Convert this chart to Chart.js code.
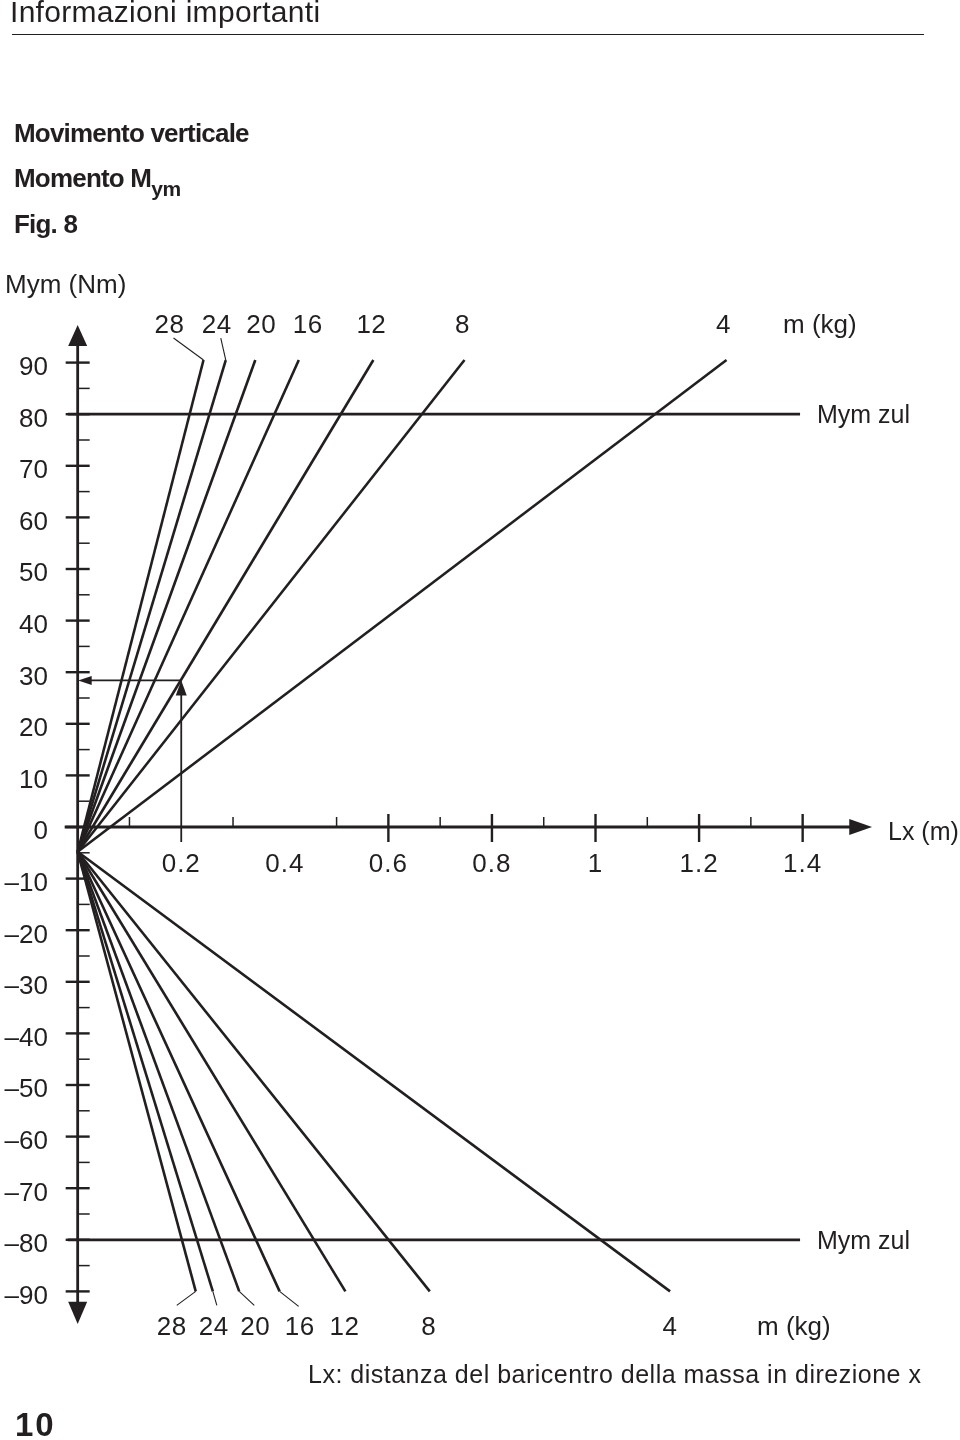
<!DOCTYPE html>
<html lang="it">
<head>
<meta charset="utf-8">
<title>Momento Mym</title>
<script src="https://cdn.jsdelivr.net/npm/chart.js@4.4.1/dist/chart.umd.min.js"></script>
<style>
    html, body { margin: 0; padding: 0; background: #fff; }
    #page { position: relative; width: 960px; height: 1440px; overflow: hidden; color: #231f20; }
    #page canvas { position: absolute; left: 0; top: 0; }
    .txt { position: absolute; white-space: nowrap; line-height: 1; font-family: "Liberation Sans", Arial, sans-serif; }
    .head { left: 10px; top: -3px; font-size: 30px; letter-spacing: 0.3px; }
    .rule { position: absolute; left: 12px; top: 34px; width: 912px; height: 0; border-top: 1.4px solid #231f20; }
    .bold { left: 14px; font-size: 26px; font-weight: bold; letter-spacing: -0.8px; }
    .bold sub { font-size: 21px; vertical-align: -9px; line-height: 0; letter-spacing: -0.5px; }
    .pagenum { left: 15px; top: 1408px; font-size: 33px; font-weight: bold; letter-spacing: 2px; }
</style>
</head>
<body>
<div id="page">
    <canvas id="moment-chart" width="960" height="1440"></canvas>
    <div class="txt head">Informazioni importanti</div>
    <div class="rule"></div>
    <div class="txt bold" style="top:120px">Movimento verticale</div>
    <div class="txt bold" style="top:165px">Momento M<sub>ym</sub></div>
    <div class="txt bold" style="top:211px">Fig. 8</div>
    <div class="txt pagenum">10</div>
</div>
<script>
// Values
const masses = [28, 24, 20, 16, 12, 8, 4];                              // m (kg)
const upperEndLx = [0.243, 0.286, 0.343, 0.427, 0.571, 0.747, 1.253];   // Lx where each line reaches the top
const lowerEndLx = [0.228, 0.261, 0.312, 0.390, 0.517, 0.680, 1.144];   // Lx where each line reaches the bottom
const upperEndM = 90.5;
const lowerEndM = -90;
const pivotLx = 0;
const pivotM = -4.8;            // all lines start from this point
const mymZul = [80, -80];       // permitted moment
const mymZulLx = [-0.019, 1.395];
const yTicks = [90, 80, 70, 60, 50, 40, 30, 20, 10, 0, -10, -20, -30, -40, -50, -60, -70, -80, -90];
const xTickLabels = ['0.2', '0.4', '0.6', '0.8', '1', '1.2', '1.4'];
const xMajorTicks = [0.6, 0.8, 1.0, 1.2, 1.4];
const xMinorTicks = [0.1, 0.3, 0.5, 0.7, 0.9, 1.1, 1.3];
const exampleLx = 0.2;
const exampleM = 28.4;

const INK = '#231f20';
const FONT = '"Liberation Sans", Arial, sans-serif';

function lineDataset(points, width) {
    return {
        data: points,
        showLine: true,
        borderColor: INK,
        borderWidth: width,
        pointRadius: 0,
        clip: false
    };
}

const datasets = [];
masses.forEach((m, i) => {
    datasets.push(lineDataset([{ x: pivotLx, y: pivotM }, { x: upperEndLx[i], y: upperEndM }], 2.6));
    datasets.push(lineDataset([{ x: pivotLx, y: pivotM }, { x: lowerEndLx[i], y: lowerEndM }], 2.6));
});
mymZul.forEach(v => {
    datasets.push(lineDataset([{ x: mymZulLx[0], y: v }, { x: mymZulLx[1], y: v }], 2.8));
});

// label placement, px offsets from the end of each line
const topLabelDx = [-34, -9, 6, 9, -2, -2, -3];
const bottomLabelDx = [-24, 1, 16, 20, -1, -1, 0];
const topLeaders = { 28: [-30, -22], 24: [-5, -22] };
const bottomLeaders = { 28: [-19, 14], 24: [4, 14], 20: [15, 14], 16: [19, 15] };

function line(ctx, x1, y1, x2, y2, w) {
    ctx.lineWidth = w;
    ctx.beginPath();
    ctx.moveTo(x1, y1);
    ctx.lineTo(x2, y2);
    ctx.stroke();
}

function tri(ctx, a, b, c) {
    ctx.beginPath();
    ctx.moveTo(a[0], a[1]);
    ctx.lineTo(b[0], b[1]);
    ctx.lineTo(c[0], c[1]);
    ctx.closePath();
    ctx.fill();
}

function text(ctx, str, x, y, size, align, spacing) {
    ctx.font = size + 'px ' + FONT;
    ctx.textAlign = align || 'left';
    ctx.textBaseline = 'alphabetic';
    ctx.letterSpacing = spacing || '0px';
    ctx.fillText(str, x, y);
}

const axesPlugin = {
    id: 'axesPlugin',
    afterDatasetsDraw(chart) {
        const ctx = chart.ctx;
        const sx = chart.scales.x;
        const sy = chart.scales.y;
        const px = v => sx.getPixelForValue(v);
        const py = v => sy.getPixelForValue(v);
        const x0 = px(0);
        const y0 = py(0);

        ctx.save();
        ctx.strokeStyle = INK;
        ctx.fillStyle = INK;
        ctx.lineCap = 'butt';

        // y axis with arrows
        line(ctx, x0, py(93.5), x0, py(-92.5), 2.8);
        tri(ctx, [x0, py(97.3)], [x0 - 9.5, py(93.2)], [x0 + 9.5, py(93.2)]);
        tri(ctx, [x0, py(-96.3)], [x0 - 9.5, py(-92)], [x0 + 9.5, py(-92)]);
        yTicks.forEach(v => {
            line(ctx, x0 - 12, py(v), x0 + 12, py(v), 2.4);
            const lbl = v < 0 ? '\u2013' + Math.abs(v) : String(v);
            text(ctx, lbl, 48, py(v) + 12.3, 26, 'right');
        });
        for (let v = 85; v > -90; v -= 10) {
            line(ctx, x0, py(v), x0 + 12, py(v), 1.5);
        }

        // x axis with arrow
        const xEnd = px(1.49);
        line(ctx, x0 - 13, y0, xEnd + 1, y0, 2.8);
        tri(ctx, [px(1.534), y0], [xEnd, y0 - 8], [xEnd, y0 + 8]);
        xMinorTicks.forEach(v => line(ctx, px(v), y0, px(v), y0 - 10, 1.5));
        xMajorTicks.forEach(v => line(ctx, px(v), y0 - 13, px(v), y0 + 15, 2.4));
        xTickLabels.forEach(l => text(ctx, l, px(parseFloat(l)), y0 + 44.5, 26, 'center', '1px'));
        text(ctx, 'Lx (m)', 888, y0 + 13, 25, 'left');

        // example reading: Lx 0.2 -> m 12 -> Mym
        const ex = px(exampleLx);
        const ey = py(exampleM);
        line(ctx, ex, y0 + 15, ex, ey + 14, 1.8);
        tri(ctx, [ex, ey], [ex - 5.5, ey + 15], [ex + 5.5, ey + 15]);
        line(ctx, ex, ey, x0 + 13, ey, 1.8);
        tri(ctx, [x0 + 0.5, ey], [x0 + 14, ey - 4.5], [x0 + 14, ey + 4.5]);

        // mass labels and leaders
        masses.forEach((m, i) => {
            const tx = px(upperEndLx[i]);
            const ty = py(upperEndM);
            text(ctx, String(m), tx + topLabelDx[i], 333, 26, 'center', '0.5px');
            if (topLeaders[m]) {
                line(ctx, tx, ty, tx + topLeaders[m][0], ty + topLeaders[m][1], 1.1);
            }
            const bx = px(lowerEndLx[i]);
            const by = py(lowerEndM);
            text(ctx, String(m), bx + bottomLabelDx[i], 1335, 26, 'center', '0.5px');
            if (bottomLeaders[m]) {
                line(ctx, bx, by, bx + bottomLeaders[m][0], by + bottomLeaders[m][1], 1.1);
            }
        });
        text(ctx, 'm (kg)', 783, 333, 26, 'left');
        text(ctx, 'm (kg)', 757, 1335, 26, 'left');

        // permitted moment labels
        text(ctx, 'Mym zul', 817, py(mymZul[0]) + 9, 25, 'left');
        text(ctx, 'Mym zul', 817, py(mymZul[1]) + 9, 25, 'left');

        // axis title and caption
        text(ctx, 'Mym (Nm)', 5, 293, 26, 'left');
        text(ctx, 'Lx: distanza del baricentro della massa in direzione x', 308, 1383, 25, 'left', '0.5px');

        ctx.restore();
    }
};

const ctx = document.getElementById('moment-chart').getContext('2d');
const momentChart = new Chart(ctx, {
    type: 'scatter',
    data: { datasets: datasets },
    options: {
        responsive: false,
        animation: false,
        layout: { padding: { left: 0, right: 2, top: 311, bottom: 97 } },
        scales: {
            x: { type: 'linear', min: -0.15, max: 1.7, display: false },
            y: { type: 'linear', min: -100, max: 100, display: false }
        },
        plugins: {
            legend: { display: false },
            tooltip: { enabled: false }
        }
    },
    plugins: [axesPlugin]
});
</script>
</body>
</html>
